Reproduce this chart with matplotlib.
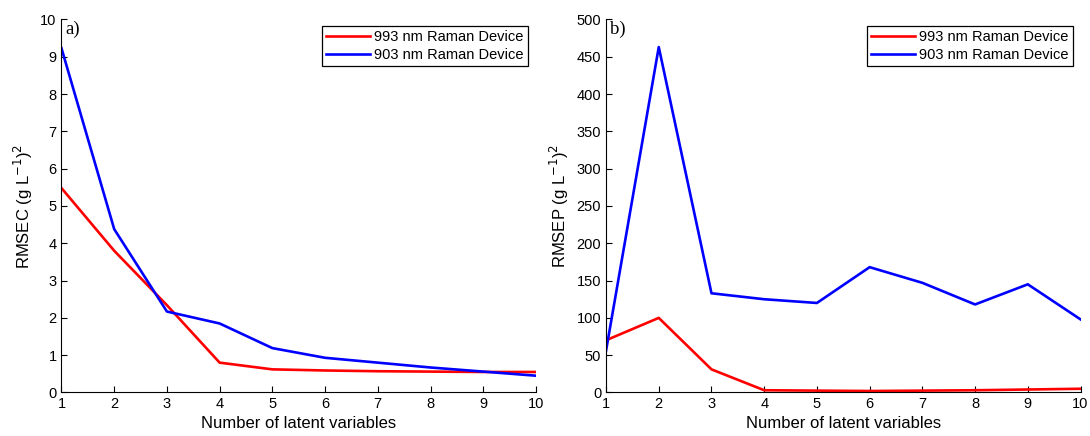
import matplotlib.pyplot as plt

plt.rcParams['font.family'] = ['Liberation Sans', 'DejaVu Sans']

# Data
n_lv = [1, 2, 3, 4, 5, 6, 7, 8, 9, 10]
rmsec_993 = [5.48, 3.80, 2.34, 0.80, 0.62, 0.59, 0.57, 0.56, 0.55, 0.55]
rmsec_903 = [9.23, 4.38, 2.17, 1.85, 1.19, 0.93, 0.80, 0.67, 0.56, 0.45]
rmsep_993 = [70, 100, 31, 3, 2.5, 2, 2.5, 3, 4, 5]
rmsep_903 = [56, 463, 133, 125, 120, 168, 147, 118, 145, 98]

labels = ['993 nm Raman Device', '903 nm Raman Device']

fig = plt.figure(figsize=(10.9, 4.36), dpi=100)
ax1 = fig.add_axes([0.0564, 0.0998, 0.4353, 0.8555])
ax2 = fig.add_axes([0.5560, 0.0998, 0.4353, 0.8555])

panels = [
    (ax1, rmsec_993, rmsec_903, 'RMSEC (g L$^{-1}$)$^2$', 10, 1, 'a)'),
    (ax2, rmsep_993, rmsep_903, 'RMSEP (g L$^{-1}$)$^2$', 500, 50, 'b)'),
]

for ax, red, blue, ylab, ymax, ystep, tag in panels:
    ax.plot(n_lv, red, color='#ff0000', lw=1.9, label=labels[0])
    ax.plot(n_lv, blue, color='#0000ff', lw=1.9, label=labels[1])
    ax.set_xlim(1, 10)
    ax.set_ylim(0, ymax)
    ax.set_xticks(n_lv)
    ax.set_yticks([i * ystep for i in range(11)])
    ax.tick_params(direction='in', length=4, labelsize=10.5, width=0.8)
    ax.spines['top'].set_visible(False)
    ax.spines['right'].set_visible(False)
    ax.set_xlabel('Number of latent variables', fontsize=12, labelpad=3)
    ax.set_ylabel(ylab, fontsize=12, labelpad=4)
    ax.text(0.008, 0.997, tag, transform=ax.transAxes, fontsize=13.5,
            family='Liberation Serif', va='top', ha='left')
    leg = ax.legend(loc='upper right', bbox_to_anchor=(0.984, 0.983), fontsize=10.5,
                    fancybox=False, framealpha=1, edgecolor='black',
                    handlelength=3.0, borderpad=0.3, labelspacing=0.25,
                    handletextpad=0.3, borderaxespad=0)
    leg.get_frame().set_linewidth(0.9)

fig.savefig('out.png', dpi=100)
